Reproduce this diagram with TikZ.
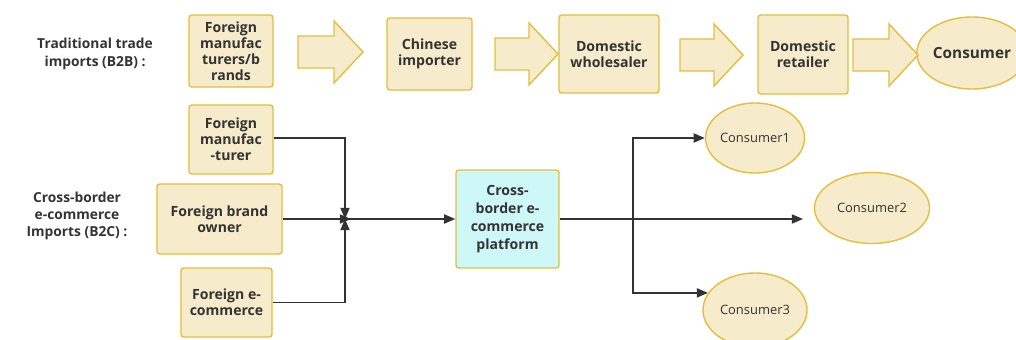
\documentclass[tikz,border=0pt]{standalone}
\usepackage{fontspec}
\setmainfont{Open Sans}
\usetikzlibrary{arrows.meta,shapes.geometric}
\definecolor{boxfill}{RGB}{246,235,203}
\definecolor{boxline}{RGB}{229,190,62}
\definecolor{platfill}{RGB}{206,248,248}
\definecolor{ink}{RGB}{51,51,51}
% wide hollow arrow between two boxes: left x, tip x, middle y
\newcommand\blockarrow[3]{%
  \draw[blockarr] (#1,#3-16) -- (#2-29,#3-16) -- (#2-29,#3-31) -- (#2,#3)
    -- (#2-29,#3+31) -- (#2-29,#3+16) -- (#1,#3+16) -- cycle;}
\begin{document}
\begin{tikzpicture}[x=0.025cm,y=-0.025cm,
  box/.style={draw=boxline, fill=boxfill, line width=1pt, rounded corners=2pt,
    align=center, text=ink, inner sep=0pt,
    font=\fontsize{10}{11.5}\selectfont\bfseries},
  oval/.style={ellipse, draw=boxline, fill=boxfill, line width=1pt,
    align=center, text=ink, inner sep=0pt, font=\fontsize{9.2}{11}\selectfont},
  blockarr/.style={draw=boxline, fill=boxfill, line width=1pt, line join=miter},
  label/.style={align=center, text=ink, font=\fontsize{9.8}{12.2}\selectfont\bfseries},
  link/.style={draw=ink, line width=1.2pt, -{Triangle[length=8pt,width=6.5pt]}}]
\useasboundingbox (0,0) rectangle (1016,340);

% ---- traditional trade chain ----
\node[label] (tlab) at (95,54) {Traditional trade\\imports (B2B) :};
\node[box, minimum width=2.1cm, minimum height=1.8cm] (b1) at (231,51)
  {Foreign\\manufac\\turers/b\\rands};
\node[box, minimum width=2.125cm, minimum height=1.8cm] (b2) at (429.5,54)
  {Chinese\\importer};
\node[box, minimum width=2.5cm, minimum height=1.95cm] (b3) at (609,54)
  {Domestic\\wholesaler};
\node[box, minimum width=2.25cm, minimum height=1.975cm] (b4) at (803,54.5)
  {Domestic\\retailer};
\node[oval, minimum width=2.3cm, minimum height=1.8cm,
  font=\fontsize{10.9}{13}\selectfont\bfseries] (cons) at (972,53) {Consumer};

\blockarrow{298}{363}{52}
\blockarrow{495}{558}{54}
\blockarrow{680}{743}{55}
\blockarrow{853}{918}{55}

% ---- cross-border e-commerce ----
\node[label] (clab) at (77,216) {Cross-border\\e-commerce\\Imports (B2C) :};
\node[box, minimum width=2.1cm, minimum height=1.725cm] (s1) at (231,139.5)
  {Foreign\\manufac\\-turer};
\node[box, minimum width=3.125cm, minimum height=1.75cm] (s2) at (219.5,219)
  {Foreign brand\\owner};
\node[box, minimum width=2.275cm, minimum height=1.725cm] (s3) at (226.5,302.5)
  {Foreign e-\\commerce};
\node[box, fill=platfill, minimum width=2.575cm, minimum height=2.45cm,
  font=\fontsize{10}{12.8}\selectfont\bfseries] (plat)
  at (507.5,219) {Cross-\\border e-\\commerce\\platform};

\node[oval, minimum width=2.375cm, minimum height=1.75cm] (c1) at (755,138) {Consumer1};
\node[oval, minimum width=2.875cm, minimum height=1.775cm] (c2) at (872,208) {Consumer2};
\node[oval, minimum width=2.6cm, minimum height=1.85cm] (c3) at (755,310) {Consumer3};

\coordinate (junc) at (345,219);
\coordinate (jtip) at (351,219);
\coordinate (fork) at (633,219);
\coordinate (c2end) at (803,219);

\draw[link] (s1.east |- 0,138) -| (junc);
\draw[link] (s3.east) -| (junc);
\draw[link] (s2.east) -- (jtip);
\draw[link] (junc) -- (plat.west);

\draw[link] (plat.east) -- (c2end);
\draw[link] (fork) |- (c1.west);
\draw[link] (fork) |- (c3.160);
\end{tikzpicture}
\end{document}
